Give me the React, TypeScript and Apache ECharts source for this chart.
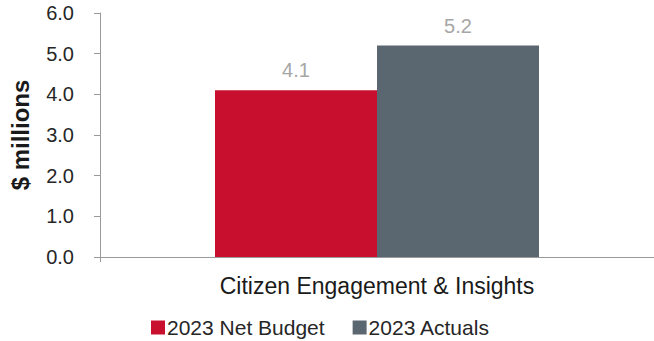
import React, { useEffect, useRef } from "react";
import * as echarts from "echarts";

const categories = ["Citizen Engagement & Insights"];
const budget = [4.1];
const actuals = [5.2];
const seriesNames = ["2023 Net Budget", "2023 Actuals"];

export default function App() {
  const ref = useRef<HTMLDivElement>(null);
  useEffect(() => {
    const chart = echarts.init(ref.current!, null, { renderer: "svg" });
    const font = "'Liberation Sans', Arial, sans-serif";
    const valueLabel = {
      show: true,
      position: "top",
      distance: 10,
      fontSize: 20,
      color: "#a6a6a6",
      fontFamily: font,
      formatter: (p: any) => p.value.toFixed(1),
    };
    chart.setOption({
      animation: false,
      textStyle: { fontFamily: font },
      grid: { left: 97, width: 566, top: 13, bottom: 84 },
      legend: {
        top: 312,
        left: 146,
        itemWidth: 14,
        itemHeight: 14,
        itemGap: 28,
        icon: "rect",
        textStyle: { fontSize: 21, color: "#262626", fontFamily: font, padding: [0, 0, 0, -3] },
        data: seriesNames,
      },
      xAxis: {
        type: "category",
        data: categories,
        axisLine: { lineStyle: { color: "#9a9a9a", width: 1 } },
        axisTick: { show: true, length: 5, lineStyle: { color: "#9a9a9a" } },
        axisLabel: { fontSize: 23, color: "#1a1a1a", margin: 17, fontFamily: font },
      },
      yAxis: {
        type: "value",
        min: 0,
        max: 6,
        interval: 1,
        name: "$ millions",
        nameLocation: "middle",
        nameGap: 68,
        nameTextStyle: { fontSize: 24, fontWeight: "bold", color: "#1a1a1a", fontFamily: font },
        axisLine: { show: true, lineStyle: { color: "#9a9a9a" } },
        axisTick: { show: true, length: 6, lineStyle: { color: "#9a9a9a" } },
        splitLine: { show: false },
        axisLabel: {
          fontSize: 20,
          color: "#262626",
          margin: 26,
          fontFamily: font,
          formatter: (v: number) => v.toFixed(1),
        },
      },
      series: [
        {
          name: seriesNames[0],
          type: "bar",
          data: budget,
          barWidth: 162,
          barGap: "0%",
          itemStyle: { color: "#C8102E" },
          label: valueLabel,
        },
        {
          name: seriesNames[1],
          type: "bar",
          data: actuals,
          barWidth: 162,
          barGap: "0%",
          itemStyle: { color: "#5B6770" },
          label: valueLabel,
        },
      ],
    });
    return () => chart.dispose();
  }, []);
  return <div ref={ref} style={{ width: 654, height: 341, position: "absolute", left: 0, top: 0 }} />;
}
